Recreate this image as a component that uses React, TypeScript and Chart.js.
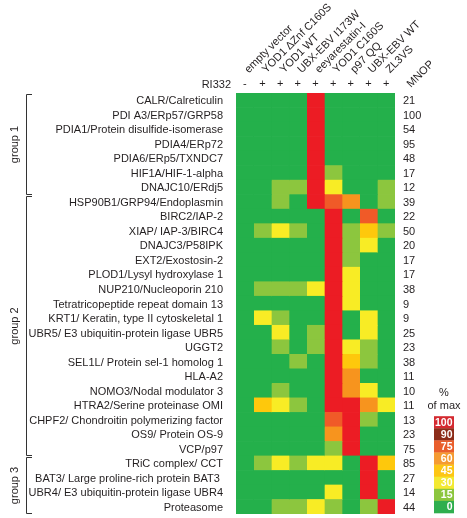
import React, { useEffect, useRef } from "react";
import { Chart, registerables } from "chart.js";

Chart.register(...registerables);

// ---- data ----
const conditions = [
  "empty vector",
  "YOD1 ΔZnf C160S",
  "YOD1 WT",
  "UBX-EBV I173W",
  "eeyarestatin-I",
  "YOD1 C160S",
  "p97 QQ",
  "UBX-EBV WT",
  "ZL3VS",
];
const ri332Signs = ["-", "+", "+", "+", "+", "+", "+", "+", "+"];

const proteins = [
  "CALR/Calreticulin",
  "PDI A3/ERp57/GRP58",
  "PDIA1/Protein disulfide-isomerase",
  "PDIA4/ERp72",
  "PDIA6/ERp5/TXNDC7",
  "HIF1A/HIF-1-alpha",
  "DNAJC10/ERdj5",
  "HSP90B1/GRP94/Endoplasmin",
  "BIRC2/IAP-2",
  "XIAP/ IAP-3/BIRC4",
  "DNAJC3/P58IPK",
  "EXT2/Exostosin-2",
  "PLOD1/Lysyl hydroxylase 1",
  "NUP210/Nucleoporin 210",
  "Tetratricopeptide repeat domain 13",
  "KRT1/ Keratin, type II cytoskeletal 1",
  "UBR5/ E3 ubiquitin-protein ligase UBR5",
  "UGGT2",
  "SEL1L/ Protein sel-1 homolog 1",
  "HLA-A2",
  "NOMO3/Nodal modulator 3",
  "HTRA2/Serine proteinase OMI",
  "CHPF2/ Chondroitin polymerizing factor",
  "OS9/ Protein OS-9",
  "VCP/p97",
  "TRiC complex/ CCT",
  "BAT3/ Large proline-rich protein BAT3 ",
  "UBR4/ E3 ubiquitin-protein ligase UBR4",
  "Proteasome",
];
const mnop = [21, 100, 54, 95, 48, 17, 12, 39, 22, 50, 20, 17, 17, 38, 9, 9, 25, 23, 38, 11, 10, 11, 13, 23, 75, 85, 27, 14, 44];

const groupNames = ["group 1", "group 2", "group 3"];
const groupFirstRow = [0, 7, 25];
const groupLastRow = [6, 24, 28];

// % of max, per condition (one value per protein row)
const emptyVector = [0,0,0,0,0,0,0,0,0,0,0,0,0,0,0,0,0,0,0,0,0,0,0,0,0,0,0,0,0];
const yod1DZnfC160S = [0,0,0,0,0,0,0,0,0,15,0,0,0,15,0,30,0,0,0,0,0,45,0,0,0,15,0,0,0];
const yod1WT = [0,0,0,0,0,0,15,15,0,30,0,0,0,15,0,15,30,15,0,0,15,30,0,0,0,30,0,0,15];
const ubxEbvI173W = [0,0,0,0,0,0,15,0,0,15,0,0,0,15,0,0,0,0,15,0,0,15,0,0,0,15,0,0,15];
const eeyarestatin = [100,100,100,100,100,100,100,100,0,0,0,0,0,30,0,0,15,15,0,0,0,0,0,0,0,30,0,0,30];
const yod1C160S = [0,0,0,0,0,15,30,75,100,100,100,100,100,100,100,100,100,100,100,100,100,100,75,60,15,30,0,30,15];
const p97QQ = [0,0,0,0,0,0,0,60,0,15,15,15,30,30,30,0,0,30,45,60,60,100,100,100,100,0,0,0,0];
const ubxEbvWT = [0,0,0,0,0,0,0,0,75,45,30,0,0,0,0,30,30,15,15,0,30,60,15,0,0,100,100,100,15];
const zl3vs = [0,0,0,0,0,0,15,15,0,15,0,0,0,0,0,0,0,0,0,0,0,30,0,0,0,45,0,0,100];

const columns = [emptyVector, yod1DZnfC160S, yod1WT, ubxEbvI173W, eeyarestatin, yod1C160S, p97QQ, ubxEbvWT, zl3vs];

const legendSteps = [100, 90, 75, 60, 45, 30, 15, 0];

// ---- styles ----
const FONT = '"Liberation Sans", Arial, Helvetica, sans-serif';
const TEXT = "#231f20";
function colorFor(v: number): string {
  if (v >= 100) return "#ec1c24";
  if (v >= 90) return "#8e2a17";
  if (v >= 75) return "#f05a28";
  if (v >= 60) return "#f7941e";
  if (v >= 45) return "#fec80c";
  if (v >= 30) return "#f8ec25";
  if (v >= 15) return "#8cc63e";
  return "#24b04b";
}
function legendColor(v: number): string {
  if (v >= 100) return "#d42a30";
  if (v >= 90) return "#8c2c19";
  if (v >= 75) return "#e95e2c";
  if (v >= 60) return "#f59b32";
  if (v >= 45) return "#fdc614";
  if (v >= 30) return "#f3e932";
  if (v >= 15) return "#8cc63e";
  return "#2fae4e";
}

function noPad(s: any) {
  s.paddingTop = 0;
  s.paddingBottom = 0;
  s.paddingLeft = 0;
  s.paddingRight = 0;
}

const extrasPlugin = {
  id: "extras",
  afterDraw(chart: any) {
    const { ctx, chartArea, scales } = chart;
    const y = scales.y;
    const rowH = y.getPixelForValue(1) - y.getPixelForValue(0);
    ctx.save();
    ctx.fillStyle = TEXT;
    ctx.font = `11px ${FONT}`;

    // RI332 label
    ctx.textAlign = "right";
    ctx.textBaseline = "alphabetic";
    ctx.fillText("RI332", chartArea.left - 5, 88);

    // MNOP header (rotated)
    ctx.save();
    ctx.translate(chartArea.right + 16, 88);
    ctx.rotate(-Math.PI / 4);
    ctx.textAlign = "left";
    ctx.fillText("MNOP", 0, 0);
    ctx.restore();

    // group brackets
    ctx.strokeStyle = "#333";
    ctx.lineWidth = 1;
    for (let g = 0; g < groupNames.length; g++) {
      const top = Math.round(y.getPixelForValue(groupFirstRow[g]) - rowH / 2 + 1) + 0.5;
      const bot = Math.round(y.getPixelForValue(groupLastRow[g]) + rowH / 2 - 1) + 0.5;
      ctx.beginPath();
      ctx.moveTo(32, top);
      ctx.lineTo(26.5, top);
      ctx.lineTo(26.5, bot);
      ctx.lineTo(32, bot);
      ctx.stroke();
      ctx.save();
      ctx.translate(15, (top + bot) / 2);
      ctx.rotate(-Math.PI / 2);
      ctx.textAlign = "center";
      ctx.textBaseline = "middle";
      ctx.fillText(groupNames[g], 0, 0);
      ctx.restore();
    }

    // colour legend
    const lx = chartArea.right + 39;
    const lw = 20;
    const lBottom = chartArea.bottom - 1;
    const lh = 12.1;
    ctx.textAlign = "center";
    ctx.textBaseline = "middle";
    ctx.fillText("%", lx + lw / 2, 393);
    ctx.fillText("of max", lx + lw / 2, 406);
    const lTop = lBottom - lh * legendSteps.length;
    legendSteps.forEach((v, i) => {
      const ty = lTop + i * lh;
      ctx.fillStyle = legendColor(v);
      ctx.fillRect(lx, ty, lw, lh + 0.3);
    });
    ctx.fillStyle = "#ffffff";
    ctx.font = `bold 10.5px ${FONT}`;
    ctx.textAlign = "right";
    legendSteps.forEach((v, i) => {
      const ty = lTop + i * lh;
      ctx.fillText(String(v), lx + lw - 1.5, ty + lh / 2 + 0.5);
    });
    ctx.restore();
  },
};

export default function App() {
  const canvasRef = useRef<HTMLCanvasElement | null>(null);

  useEffect(() => {
    document.body.style.margin = "0";
    const canvas = canvasRef.current;
    if (!canvas) return;
    Chart.defaults.font.family = FONT;
    Chart.defaults.color = TEXT;

    const datasets = columns.map((col, ci) => ({
      label: conditions[ci],
      // every cell is one unit wide; its colour carries the value
      data: col.map(() => 1),
      backgroundColor: col.map((v) => colorFor(v)),
      borderWidth: 0,
      barPercentage: 1,
      categoryPercentage: 1,
      stack: "cells",
    }));

    const chart = new Chart(canvas, {
      type: "bar",
      data: { labels: proteins, datasets },
      options: {
        indexAxis: "y",
        animation: false,
        responsive: false,
        devicePixelRatio: 1,
        layout: { padding: { left: 0, right: 0, top: 0, bottom: 4 } },
        plugins: { legend: { display: false }, tooltip: { enabled: false } },
        scales: {
          x: {
            type: "linear",
            stacked: true,
            min: 0,
            max: conditions.length,
            display: false,
          },
          y: {
            type: "category",
            stacked: true,
            position: "left",
            offset: true,
            grid: { display: false, drawTicks: false },
            border: { display: false },
            ticks: { font: { size: 11 }, color: TEXT, padding: 13, labelOffset: 1, autoSkip: false },
            afterFit(s: any) {
              s.width = 236;
              noPad(s);
            },
          },
          y2: {
            type: "category",
            position: "right",
            labels: mnop.map(String),
            offset: true,
            grid: { display: false, drawTicks: false },
            border: { display: false },
            ticks: { font: { size: 11 }, color: TEXT, padding: 8, labelOffset: 1, autoSkip: false },
            afterFit(s: any) {
              s.width = 72;
              noPad(s);
            },
          },
          ri: {
            type: "category",
            position: "top",
            weight: 0,
            labels: ri332Signs,
            offset: true,
            grid: { display: false, drawTicks: false },
            border: { display: false },
            ticks: { font: { size: 11 }, color: TEXT, padding: 2, autoSkip: false, maxRotation: 0, minRotation: 0 },
            afterFit(s: any) {
              s.height = 17;
              noPad(s);
            },
          },
          cond: {
            type: "category",
            position: "top",
            weight: 1,
            labels: conditions,
            offset: true,
            grid: { display: false, drawTicks: false },
            border: { display: false },
            ticks: {
              font: { size: 11 },
              color: TEXT,
              padding: 0,
              labelOffset: 11,
              autoSkip: false,
              maxRotation: 45,
              minRotation: 45,
            },
            afterFit(s: any) {
              s.height = 76;
              noPad(s);
            },
          },
        } as any,
      },
      plugins: [extrasPlugin],
    });
    return () => chart.destroy();
  }, []);

  return (
    <div style={{ width: 467, height: 518, position: "relative" }}>
      <canvas ref={canvasRef} width={467} height={518} style={{ display: "block" }} />
    </div>
  );
}
